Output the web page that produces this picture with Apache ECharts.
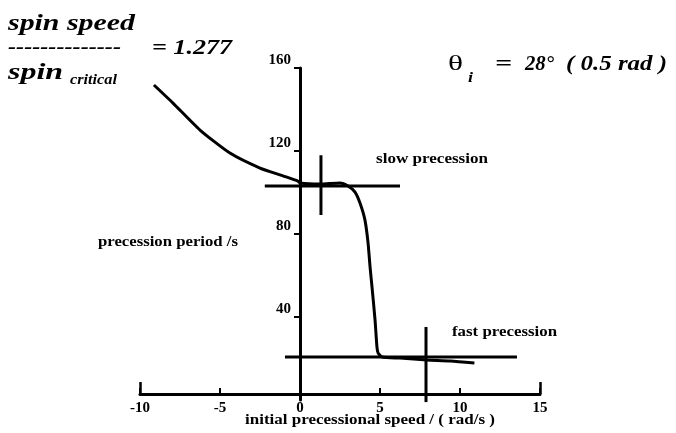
<!DOCTYPE html>
<html><head><meta charset="utf-8">
<script src="https://cdn.jsdelivr.net/npm/echarts@6/dist/echarts.min.js"></script>
<style>html,body{margin:0;padding:0;background:#fff}#c{width:676px;height:433px}</style>
</head><body><div id="c"></div>
<script>
// ---- data ----
const xTicks = [-10, -5, 0, 5, 10, 15];
const xEndTicks = [-10, 15];
const yTicks = [40, 80, 120, 160];
const initialSpeed = [-9.13, -7.94, -6.25, -4.38, -2.5, -1.06, -0.13, 0, 1.25, 2.5, 3.0, 3.44, 3.75, 4.06, 4.25, 4.38, 4.5, 4.69, 4.81, 4.88, 5.13, 6.25, 7.94, 9.4, 10.9];
const precessionPeriod = [151.8, 143.1, 130.1, 119.0, 111.8, 108.0, 105.5, 104.6, 104.1, 104.6, 103.1, 100.2, 94.9, 86.7, 76.0, 64.0, 54.5, 38.6, 25.5, 22.7, 20.7, 20.2, 19.3, 18.8, 17.8];
const slowLevelX = [-2.2, 6.25];
const slowLevelY = [103.1, 103.1];
const slowMarkX = [1.31, 1.31];
const slowMarkY = [118, 89.2];
const fastLevelX = [-0.94, 13.56];
const fastLevelY = [20.7, 20.7];
const fastMarkX = [7.875, 7.875];
const fastMarkY = [35.2, -1];
const spinRatio = '1.277';

const zip = (a, b) => a.map((v, i) => [v, b[i]]);
const SERIF = "'Liberation Serif','Times New Roman',serif";

const cv = document.createElement('canvas').getContext('2d');
function txt(text, font, left, cy, width) {
  cv.font = font;
  const w = cv.measureText(text).width;
  return {
    type: 'text', x: left, y: cy, scaleX: width / w, originX: 0, originY: 0,
    style: { text: text, font: font, fill: '#000', align: 'left', verticalAlign: 'middle' }
  };
}
const BI = (s) => 'italic bold ' + s + 'px ' + SERIF;
const B = (s) => 'bold ' + s + 'px ' + SERIF;

const chart = echarts.init(document.getElementById('c'), null, { renderer: 'canvas' });
const lineStyle = { color: '#000', width: 3 };
function seg(data, extra) {
  return Object.assign({ type: 'line', data: data, showSymbol: false, symbol: 'none',
    lineStyle: lineStyle, silent: true, animation: false }, extra || {});
}
const tickLabel = { color: '#000', fontFamily: SERIF, fontWeight: 'bold', fontSize: 15 };
chart.setOption({
  backgroundColor: '#fff',
  animation: false,
  grid: { left: 140, right: 136, top: 68, bottom: 33 },
  xAxis: [{
    type: 'value', min: -10, max: 15, interval: 5, offset: -6,
    axisLine: { onZero: false, lineStyle: { color: '#000', width: 3 } },
    axisTick: { inside: true, length: 6, lineStyle: { color: '#000', width: 2 } },
    axisLabel: Object.assign({ margin: 7, formatter: v => xTicks.includes(v) ? String(v) : '' }, tickLabel),
    splitLine: { show: false }
  }, {
    type: 'value', min: -10, max: 15, interval: 5, offset: -6, position: 'bottom',
    axisLine: { show: false, onZero: false },
    axisTick: { inside: true, length: 12, customValues: xEndTicks, lineStyle: { color: '#000', width: 2.5 } },
    axisLabel: { show: false },
    splitLine: { show: false }
  }],
  yAxis: {
    type: 'value', min: 0, max: 160, interval: 40, offset: -160,
    axisLine: { onZero: false, lineStyle: { color: '#000', width: 3 } },
    axisTick: { length: 6, lineStyle: { color: '#000', width: 2 }, customValues: yTicks },
    axisLabel: Object.assign({ margin: 9, verticalAlign: 'bottom', customValues: yTicks,
      formatter: v => String(v) }, tickLabel),
    splitLine: { show: false }
  },
  series: [
    seg(zip(initialSpeed, precessionPeriod), { smooth: 0.2 }),
    seg(zip(slowLevelX, slowLevelY)),
    seg(zip(slowMarkX, slowMarkY)),
    seg(zip(fastLevelX, fastLevelY)),
    seg(zip(fastMarkX, fastMarkY), { clip: false })
  ],
  graphic: [
    txt('spin speed', BI(23), 8, 24, 127),
    txt('--------------', BI(22), 8, 47, 113),
    txt('= ' + spinRatio, BI(22), 152, 48, 80),
    txt('spin', BI(23), 8, 73, 55),
    txt('critical', BI(14), 70, 80, 47),
    txt('θ', '21px ' + SERIF, 448, 64, 15),
    txt('i', BI(14), 468, 78, 5),
    txt('=', BI(22), 495, 64, 17),
    txt('28°', BI(22), 525, 64, 29),
    txt('( 0.5 rad )', BI(22), 566, 64, 101),
    txt('slow precession', B(15), 376, 159, 112),
    txt('fast precession', B(15), 452, 332, 105),
    txt('precession period /s', B(15), 98, 242, 140),
    txt('initial precessional speed / ( rad/s )', B(15), 245, 420, 250)
  ]
});
</script></body></html>
